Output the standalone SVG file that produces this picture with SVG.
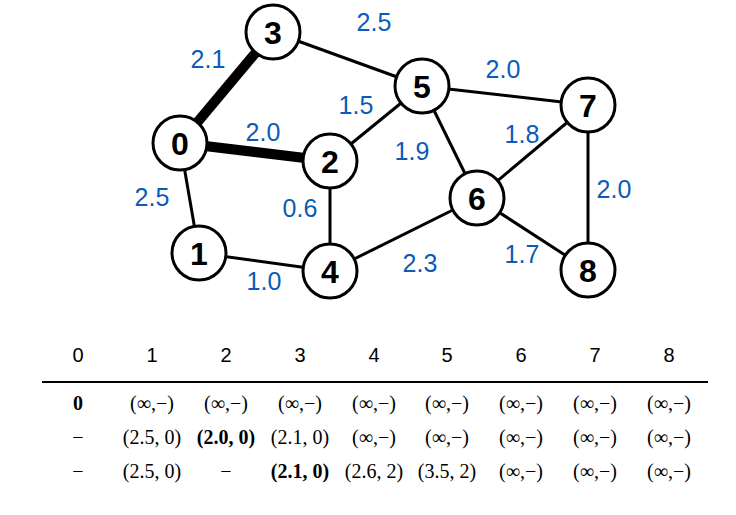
<svg xmlns="http://www.w3.org/2000/svg" width="736" height="515" viewBox="0 0 736 515">
<style>
.e{stroke:#000;stroke-width:3;fill:none}
.t{stroke:#000;stroke-width:10;fill:none}
.n circle{fill:#fff;stroke:#000;stroke-width:3}
.n text{font-family:"Liberation Sans",Arial,sans-serif;font-weight:bold;font-size:32px;text-anchor:middle}
.w{font-family:"Liberation Sans",Arial,sans-serif;font-size:25px;fill:#0a5cb8;text-anchor:middle}
.h{font-family:"Liberation Sans",Arial,sans-serif;font-size:20px;text-anchor:middle}
.c{font-family:"Liberation Serif","Times New Roman",serif;font-size:20px;text-anchor:middle}
.b{font-weight:bold}
</style>
<rect width="736" height="515" fill="#fff"/>
<g id="connectors">
<line class="t" x1="180" y1="143" x2="273" y2="32"/>
<line class="t" x1="180" y1="143" x2="330" y2="161"/>
<line class="e" x1="180" y1="143" x2="199" y2="253"/>
<line class="e" x1="273" y1="32" x2="422" y2="86"/>
<line class="e" x1="330" y1="161" x2="422" y2="86"/>
<line class="e" x1="330" y1="161" x2="330" y2="271"/>
<line class="e" x1="199" y1="253" x2="330" y2="271"/>
<line class="e" x1="330" y1="271" x2="477" y2="198"/>
<line class="e" x1="422" y1="86" x2="477" y2="198"/>
<line class="e" x1="422" y1="86" x2="588" y2="105"/>
<line class="e" x1="477" y1="198" x2="588" y2="105"/>
<line class="e" x1="477" y1="198" x2="588" y2="270"/>
<line class="e" x1="588" y1="105" x2="588" y2="270"/>
</g>
<g id="edge-labels">
<text class="w" x="374" y="31">2.5</text>
<text class="w" x="208" y="68">2.1</text>
<text class="w" x="263" y="141">2.0</text>
<text class="w" x="356" y="114">1.5</text>
<text class="w" x="152" y="206">2.5</text>
<text class="w" x="300" y="217">0.6</text>
<text class="w" x="264" y="290">1.0</text>
<text class="w" x="503" y="78">2.0</text>
<text class="w" x="522" y="143">1.8</text>
<text class="w" x="412" y="160">1.9</text>
<text class="w" x="614" y="198">2.0</text>
<text class="w" x="522" y="263">1.7</text>
<text class="w" x="420" y="272">2.3</text>
</g>
<g id="node0" class="n"><circle cx="180" cy="143" r="27"/><text x="180" y="154.5">0</text></g>
<g id="node1" class="n"><circle cx="199" cy="253" r="27"/><text x="199" y="264.5">1</text></g>
<g id="node2" class="n"><circle cx="330" cy="161" r="27"/><text x="330" y="172.5">2</text></g>
<g id="node3" class="n"><circle cx="273" cy="32" r="27"/><text x="273" y="43.5">3</text></g>
<g id="node4" class="n"><circle cx="330" cy="271" r="27"/><text x="330" y="282.5">4</text></g>
<g id="node5" class="n"><circle cx="422" cy="86" r="27"/><text x="422" y="97.5">5</text></g>
<g id="node6" class="n"><circle cx="477" cy="198" r="27"/><text x="477" y="209.5">6</text></g>
<g id="node7" class="n"><circle cx="588" cy="105" r="27"/><text x="588" y="116.5">7</text></g>
<g id="node8" class="n"><circle cx="588" cy="270" r="27"/><text x="588" y="281.5">8</text></g>
<g id="table">
<g class="h">
<text x="78" y="362">0</text><text x="152" y="362">1</text><text x="226" y="362">2</text><text x="300" y="362">3</text><text x="374" y="362">4</text><text x="447" y="362">5</text><text x="521" y="362">6</text><text x="595" y="362">7</text><text x="669" y="362">8</text>
</g>
<line x1="42" y1="382" x2="708" y2="382" stroke="#000" stroke-width="2"/>
<g class="c">
<text x="78" y="410" class="b">0</text><text x="152" y="410">(∞,−)</text><text x="226" y="410">(∞,−)</text><text x="300" y="410">(∞,−)</text><text x="374" y="410">(∞,−)</text><text x="447" y="410">(∞,−)</text><text x="521" y="410">(∞,−)</text><text x="595" y="410">(∞,−)</text><text x="669" y="410">(∞,−)</text>
<text x="78" y="444">−</text><text x="152" y="444">(2.5, 0)</text><text x="226" y="444" class="b">(2.0, 0)</text><text x="300" y="444">(2.1, 0)</text><text x="374" y="444">(∞,−)</text><text x="447" y="444">(∞,−)</text><text x="521" y="444">(∞,−)</text><text x="595" y="444">(∞,−)</text><text x="669" y="444">(∞,−)</text>
<text x="78" y="478">−</text><text x="152" y="478">(2.5, 0)</text><text x="226" y="478">−</text><text x="300" y="478" class="b">(2.1, 0)</text><text x="374" y="478">(2.6, 2)</text><text x="447" y="478">(3.5, 2)</text><text x="521" y="478">(∞,−)</text><text x="595" y="478">(∞,−)</text><text x="669" y="478">(∞,−)</text>
</g>
</g>
</svg>
